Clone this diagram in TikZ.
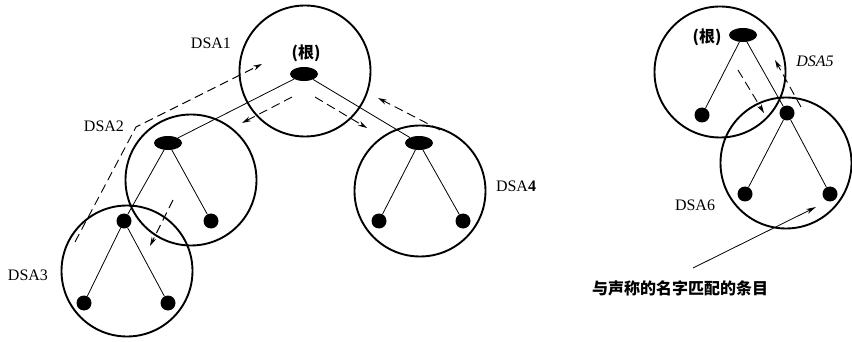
\documentclass[tikz,border=0pt]{standalone}
\usepackage{fontspec}
\setmainfont{Liberation Serif}
\newfontfamily\cjk{Noto Sans CJK SC}
\usetikzlibrary{arrows.meta,shapes.geometric}
\begin{document}
\begin{tikzpicture}[x=1pt,y=-1pt,
  ring/.style={circle,draw,line width=1.9pt,minimum size=131pt,inner sep=0pt},
  blob/.style={ellipse,fill,minimum width=28pt,minimum height=14pt,inner sep=0pt},
  dot/.style={circle,fill,minimum size=15pt,inner sep=0pt},
  link/.style={line width=0.8pt},
  dasharrow/.style={line width=0.9pt,dash pattern=on 9pt off 5pt,-{Stealth[length=9pt,width=5pt]}},
  pointer/.style={line width=0.8pt,-{Stealth[length=10pt,width=5pt]}},
  lbl/.style={font=\fontsize{16}{18}\selectfont,inner sep=0pt},
  cjklbl/.style={font=\cjk\bfseries\fontsize{16}{18}\selectfont,inner sep=0pt}]
\useasboundingbox (0,0) rectangle (852,342);
% rings
\node[ring] (R1) at (305,71) {};
\node[ring] (R2) at (191,180) {};
\node[ring] (R3) at (127,271) {};
\node[ring] (R4) at (420,191) {};
\node[ring] (R5) at (720,72) {};
\node[ring] (R6) at (786,163) {};
% tree nodes
\node[blob] (n1) at (304,74) {};
\node[blob] (n2) at (168,143) {};
\node[blob] (n4) at (419,143) {};
\node[dot] (n2a) at (124,221) {};
\node[dot] (n2b) at (211,221) {};
\node[dot] (n3a) at (84,303) {};
\node[dot] (n3b) at (168,303) {};
\node[dot] (n4a) at (379,221) {};
\node[dot] (n4b) at (463,221) {};
\node[blob] (n5) at (743,35) {};
\node[dot] (n5a) at (702,115) {};
\node[dot] (n5b) at (787,113) {};
\node[dot] (n6a) at (745,194) {};
\node[dot] (n6b) at (830,194) {};
% edges
\draw[link] (n1) -- (n2);
\draw[link] (n1) -- (n4);
\draw[link] (n2) -- (n2a);
\draw[link] (n2) -- (n2b);
\draw[link] (n2a) -- (n3a);
\draw[link] (n2a) -- (n3b);
\draw[link] (n4) -- (n4a);
\draw[link] (n4) -- (n4b);
\draw[link] (n5) -- (n5a);
\draw[link] (n5) -- (n5b);
\draw[link] (n5b) -- (n6a);
\draw[link] (n5b) -- (n6b);
% labels
\node[lbl] (L1) at (211,43) {DSA1};
\node[lbl] (L2) at (104,126) {DSA2};
\node[lbl] (L3) at (28,275) {DSA3};
\node[lbl] (L4) at (516,186) {DSA\textbf{4}};
\node[lbl] (L5) at (815,61) {\textit{DSA5}};
\node[lbl] (L6) at (695,205) {DSA6};
\node[cjklbl] (root1) at (306,53) {(根)};
\node[cjklbl] (root2) at (707,37) {(根)};
\node[cjklbl] (cap) at (680,288) {与声称的名字匹配的条目};
% dashed query paths
\coordinate (a1) at (75,242);
\coordinate (a2) at (136,127);
\coordinate (a3) at (262,64);
\draw[dasharrow] (a1) -- (a2) -- (a3);
\coordinate (b1) at (292,97);
\coordinate (b2) at (242,123);
\draw[dasharrow] (b1) -- (b2);
\coordinate (c1) at (315,97);
\coordinate (c2) at (367,128);
\draw[dasharrow] (c1) -- (c2);
\coordinate (d1) at (440,130);
\coordinate (d2) at (378,98);
\draw[dasharrow] (d1) -- (d2);
\coordinate (e1) at (173,200);
\coordinate (e2) at (150,246);
\draw[dasharrow] (e1) -- (e2);
\coordinate (f1) at (738,70);
\coordinate (f2) at (764,113);
\draw[dasharrow] (f1) -- (f2);
\coordinate (g1) at (801,107);
\coordinate (g2) at (775,60);
\draw[dasharrow] (g1) -- (g2);
% pointer
\coordinate (h1) at (693,268);
\coordinate (h2) at (816,207);
\draw[pointer] (h1) -- (h2);
\end{tikzpicture}
\end{document}
